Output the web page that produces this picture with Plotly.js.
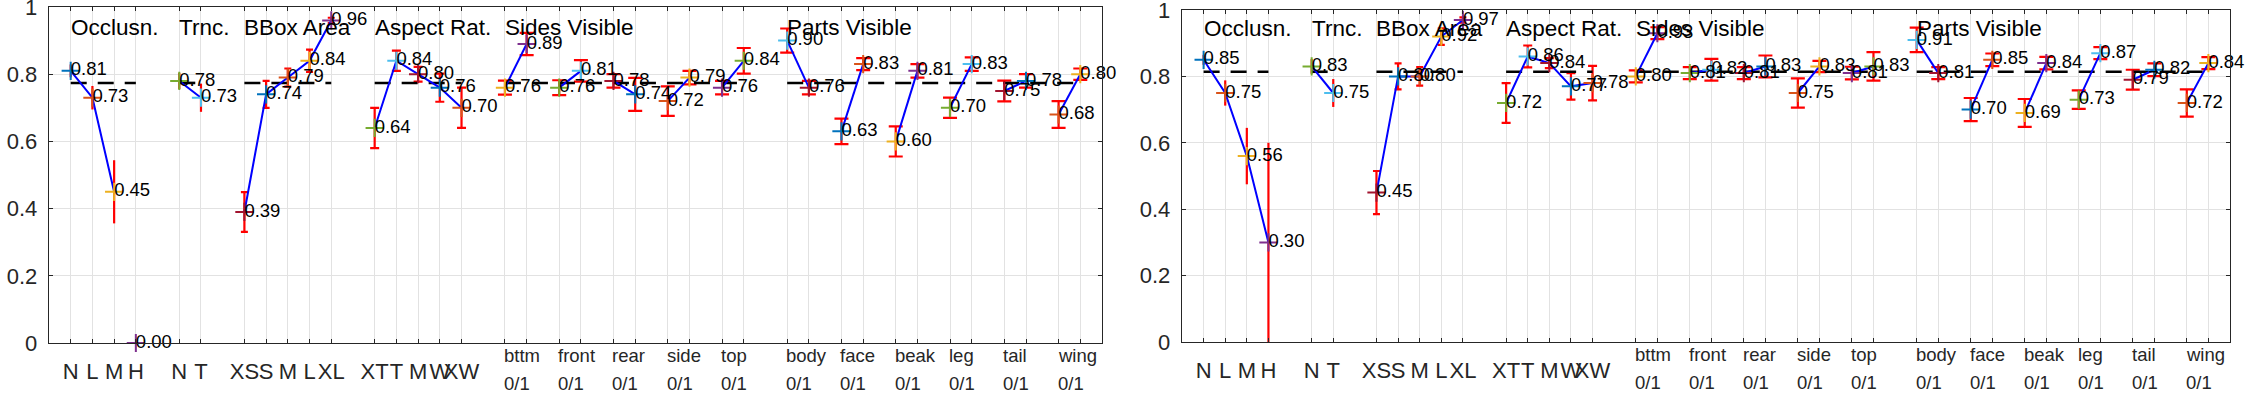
<!DOCTYPE html>
<html>
<head>
<meta charset="utf-8">
<script src="https://cdn.plot.ly/plotly-3.0.1.min.js"></script>
<style>
  html, body { margin: 0; padding: 0; background: #fff; }
  #chart { width: 2262px; height: 410px; }
</style>
</head>
<body>
<div id="chart"></div>
<script>
// group titles and category labels
const groupTitles = ['Occlusn.', 'Trnc.', 'BBox Area', 'Aspect Rat.', 'Sides Visible', 'Parts Visible'];
const occlLabels = ['N', 'L', 'M', 'H'];
const truncLabels = ['N', 'T'];
const bboxLabels = ['XS', 'S', 'M', 'L', 'XL'];
const aspectLabels = ['XT', 'T', 'M', 'W', 'XW'];
const sideLabels = ['bttm', 'front', 'rear', 'side', 'top'];
const partLabels = ['body', 'face', 'beak', 'leg', 'tail', 'wing'];
const pairLabel = '0/1';

// left panel: values and error half-widths (null = no estimate)
const leftOccl = [0.81, 0.73, 0.45, 0.00];
const leftOcclErr = [0.019, 0.035, 0.094, null];
const leftTrunc = [0.78, 0.73];
const leftTruncErr = [0.024, 0.042];
const leftBbox = [0.39, 0.74, 0.79, 0.84, 0.96];
const leftBboxErr = [0.059, 0.040, 0.027, 0.033, 0.008];
const leftAspect = [0.64, 0.84, 0.80, 0.76, 0.70];
const leftAspectErr = [0.060, 0.030, 0.022, 0.042, 0.060];
const leftSides = [0.76, 0.89, 0.76, 0.81, 0.78, 0.74, 0.72, 0.79, 0.76, 0.84];
const leftSidesErr = [0.021, 0.033, 0.022, 0.032, 0.020, 0.049, 0.044, 0.020, 0.020, 0.038];
const leftParts = [0.90, 0.76, 0.63, 0.83, 0.60, 0.81, 0.70, 0.83, 0.75, 0.78, 0.68, 0.80];
const leftPartsErr = [0.036, 0.020, 0.038, 0.018, 0.045, 0.020, 0.030, 0.020, 0.031, 0.020, 0.040, 0.017];
const leftMean = 0.774;

// right panel
const rightOccl = [0.85, 0.75, 0.56, 0.30];
const rightOcclErr = [0.015, 0.038, 0.085, 0.30];
const rightTrunc = [0.83, 0.75];
const rightTruncErr = [0.022, 0.042];
const rightBbox = [0.45, 0.80, 0.80, 0.92, 0.97];
const rightBboxErr = [0.065, 0.039, 0.028, 0.025, 0.008];
const rightAspect = [0.72, 0.86, 0.84, 0.77, 0.78];
const rightAspectErr = [0.060, 0.033, 0.015, 0.040, 0.052];
const rightSides = [0.80, 0.93, 0.81, 0.82, 0.81, 0.83, 0.75, 0.83, 0.81, 0.83];
const rightSidesErr = [0.018, 0.018, 0.018, 0.033, 0.018, 0.033, 0.044, 0.017, 0.019, 0.043];
const rightParts = [0.91, 0.81, 0.70, 0.85, 0.69, 0.84, 0.73, 0.87, 0.79, 0.82, 0.72, 0.84];
const rightPartsErr = [0.037, 0.018, 0.035, 0.019, 0.042, 0.019, 0.028, 0.018, 0.030, 0.019, 0.041, 0.018];
const rightMean = 0.814;

// matlab default colour order, cycled over points
const colorOrder = ['#0072BD', '#D95319', '#EDB120', '#7E2F8E', '#77AC30', '#4DBEEE', '#A2142F'];
const capWidths = [0, 0, 3.5, 4.5, 7, 7];
const FONT = 'Liberation Sans, Arial, Helvetica, sans-serif';
const W = 2262, H = 410;

// x positions: groups two units apart, 0/1 pairs 1.5 apart
const groupDefs = [
	{ labels: occlLabels, paired: false },
	{ labels: truncLabels, paired: false },
	{ labels: bboxLabels, paired: false },
	{ labels: aspectLabels, paired: false },
	{ labels: sideLabels, paired: true },
	{ labels: partLabels, paired: true },
];

let cursor = -2;
const groupPos = groupDefs.map((g) => {
	cursor += 2;
	const xs = [];
	g.labels.forEach((lab, i) => {
		if (g.paired) {
			if (i > 0) cursor += 1.5;
			xs.push(cursor, cursor + 1);
			cursor += 1;
		} else {
			if (i > 0) cursor += 1;
			xs.push(cursor);
		}
	});
	return xs;
});
const allPos = groupPos.flat();

const tickText = [];
groupDefs.forEach((g) => {
	g.labels.forEach((lab) => {
		if (g.paired) tickText.push('', '');
		else tickText.push(lab);
	});
});

function panel(vals, errs, mean, ax) {
	const xa = 'x' + (ax === 1 ? '' : ax);
	const ya = 'y' + (ax === 1 ? '' : ax);
	const traces = [];
	const flatVals = vals.flat();

	// error bars
	vals.forEach((v, g) => {
		traces.push({
			x: groupPos[g], y: v, xaxis: xa, yaxis: ya,
			type: 'scatter', mode: 'markers', cliponaxis: false,
			marker: { size: 1, color: 'rgba(0,0,0,0)' },
			error_y: {
				type: 'data', array: errs[g].map((e) => (e === null ? 0 : e)),
				color: '#ff0000', thickness: 2.2, width: capWidths[g],
			},
			hoverinfo: 'skip',
		});
	});

	// dashed mean line per group
	groupPos.forEach((xs) => {
		traces.push({
			x: [xs[0], xs[xs.length - 1]], y: [mean, mean], xaxis: xa, yaxis: ya,
			type: 'scatter', mode: 'lines',
			line: { color: '#000', width: 2.6, dash: '16px,11px' },
			hoverinfo: 'skip',
		});
	});

	// blue connecting lines
	vals.forEach((v, g) => {
		const lx = [], ly = [];
		if (groupDefs[g].paired) {
			for (let i = 0; i < v.length; i += 2) {
				lx.push(groupPos[g][i], groupPos[g][i + 1], null);
				ly.push(v[i], v[i + 1], null);
			}
		} else {
			v.forEach((val, i) => {
				lx.push(groupPos[g][i]);
				ly.push(errs[g][i] === null ? null : val);
			});
		}
		traces.push({
			x: lx, y: ly, xaxis: xa, yaxis: ya,
			type: 'scatter', mode: 'lines', connectgaps: false,
			line: { color: '#0000ff', width: 2 },
			hoverinfo: 'skip',
		});
	});

	// + markers
	traces.push({
		x: allPos, y: flatVals, xaxis: xa, yaxis: ya,
		type: 'scatter', mode: 'markers', cliponaxis: false,
		marker: {
			symbol: 'cross-thin', size: 13,
			line: { width: 2, color: flatVals.map((_, i) => colorOrder[i % colorOrder.length]) },
		},
		hoverinfo: 'skip',
	});

	// value labels
	traces.push({
		x: allPos, y: flatVals, xaxis: xa, yaxis: ya,
		type: 'scatter', mode: 'text', cliponaxis: false,
		text: flatVals.map((v) => v.toFixed(2)),
		textposition: 'middle right',
		textfont: { family: FONT, size: 18.5, color: '#000' },
		hoverinfo: 'skip',
	});
	return traces;
}

function annotations(ax, titleY) {
	const xa = 'x' + (ax === 1 ? '' : ax);
	const ya = 'y' + (ax === 1 ? '' : ax);
	const out = [];
	groupTitles.forEach((t, g) => {
		out.push({
			x: groupPos[g][0], y: titleY, xref: xa, yref: ya,
			text: t, showarrow: false, xanchor: 'left', yanchor: 'middle',
			xshift: -2,
			font: { family: FONT, size: 22.5, color: '#000' },
		});
	});
	groupDefs.forEach((g, gi) => {
		if (!g.paired) return;
		g.labels.forEach((lab, i) => {
			const x0 = groupPos[gi][i * 2];
			[[lab, -12], [pairLabel, -40]].forEach(([txt, shift]) => {
				out.push({
					x: x0, y: 0, xref: xa, yref: ya,
					text: txt, showarrow: false, xanchor: 'left', yanchor: 'middle',
					yshift: shift, xshift: -3,
					font: { family: FONT, size: 18.5, color: '#262626' },
				});
			});
		});
	});
	return out;
}

const xBase = {
	range: [-1, 47.5],
	tickmode: 'array', tickvals: allPos, ticktext: tickText,
	tickangle: 0,
	showgrid: true, gridcolor: '#e2e2e2', gridwidth: 1,
	zeroline: false, showline: true, mirror: 'ticks',
	linecolor: '#262626', linewidth: 1.3,
	ticks: 'inside', ticklen: 4, tickcolor: '#262626',
	tickfont: { family: FONT, size: 22, color: '#262626' },
	ticklabelstandoff: 8,
	fixedrange: true,
};
const yBase = {
	range: [0, 1], tickmode: 'array',
	tickvals: [0, 0.2, 0.4, 0.6, 0.8, 1], ticktext: ['0', '0.2', '0.4', '0.6', '0.8', '1'],
	showgrid: true, gridcolor: '#e2e2e2', gridwidth: 1,
	zeroline: false, showline: true, mirror: 'ticks',
	linecolor: '#262626', linewidth: 1.3,
	ticks: 'inside', ticklen: 4, tickcolor: '#262626',
	tickfont: { family: FONT, size: 22, color: '#262626' },
	ticklabelstandoff: 6,
	ticklabeloverflow: 'allow',
	fixedrange: true,
};

const data = [].concat(
	panel([leftOccl, leftTrunc, leftBbox, leftAspect, leftSides, leftParts],
		[leftOcclErr, leftTruncErr, leftBboxErr, leftAspectErr, leftSidesErr, leftPartsErr], leftMean, 1),
	panel([rightOccl, rightTrunc, rightBbox, rightAspect, rightSides, rightParts],
		[rightOcclErr, rightTruncErr, rightBboxErr, rightAspectErr, rightSidesErr, rightPartsErr], rightMean, 2)
);

const layout = {
	width: W, height: H,
	margin: { l: 0, r: 0, t: 0, b: 0 },
	paper_bgcolor: '#fff', plot_bgcolor: '#fff',
	showlegend: false,
	xaxis: { ...xBase, domain: [49 / W, 1102 / W], anchor: 'y' },
	yaxis: { ...yBase, domain: [1 - 343 / H, 1 - 7 / H], anchor: 'x' },
	xaxis2: { ...xBase, domain: [1182 / W, 2230 / W], anchor: 'y2' },
	yaxis2: { ...yBase, domain: [1 - 342 / H, 1 - 10 / H], anchor: 'x2' },
	annotations: [].concat(annotations(1, 0.939), annotations(2, 0.944)),
};

Plotly.newPlot('chart', data, layout, { displayModeBar: false, staticPlot: true });
</script>
</body>
</html>
